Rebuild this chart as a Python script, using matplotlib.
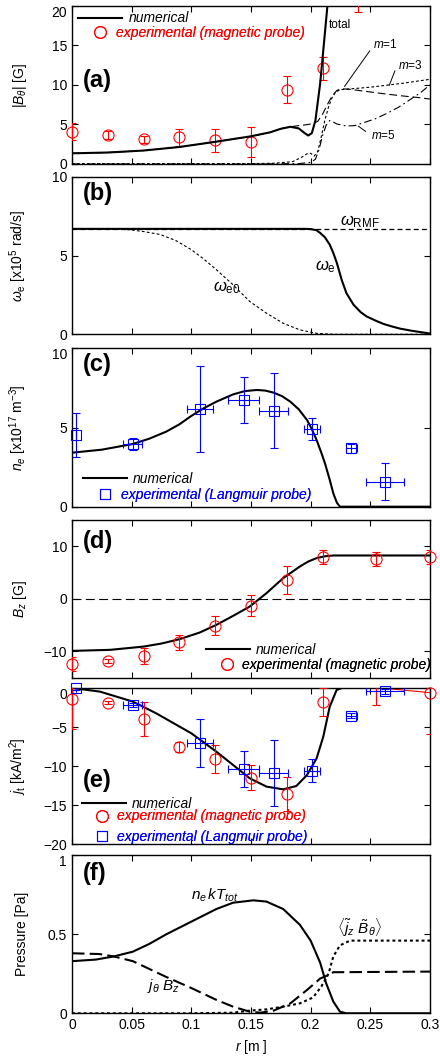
import numpy as np
import matplotlib
matplotlib.use('Agg')
import matplotlib.pyplot as plt
from matplotlib.lines import Line2D

plt.rcParams['font.family'] = ['Liberation Sans', 'DejaVu Sans']
plt.rcParams['mathtext.fontset'] = 'custom'
plt.rcParams['mathtext.rm'] = 'Liberation Sans'
plt.rcParams['mathtext.it'] = 'Liberation Sans:italic'
plt.rcParams['mathtext.bf'] = 'Liberation Sans:bold'
plt.rcParams['font.size'] = 10

# ---- (a) |B_theta| ----
r_bt = [0, 0.03, 0.06, 0.09, 0.12, 0.15, 0.166, 0.175, 0.183, 0.19, 0.195, 0.198,
        0.201, 0.204, 0.208, 0.211, 0.2145, 0.217]
bt_total = [1.35, 1.45, 1.7, 2.15, 2.8, 3.5, 4.0, 4.45, 4.7, 4.5, 3.9, 3.6,
            3.9, 5.5, 10.2, 15.0, 20.7, 24.0]
r_m1 = [0, 0.03, 0.06, 0.09, 0.12, 0.15, 0.166, 0.175, 0.183, 0.19, 0.196, 0.202,
        0.206, 0.21, 0.214, 0.218, 0.222, 0.226, 0.232, 0.24, 0.25, 0.26, 0.277, 0.29, 0.3]
bt_m1 = [1.35, 1.45, 1.7, 2.15, 2.8, 3.5, 4.0, 4.45, 4.7, 4.85, 4.95, 5.1,
         5.4, 6.3, 7.5, 8.6, 9.3, 9.5, 9.45, 9.3, 9.1, 8.9, 8.6, 8.4, 8.2]
r_m3 = [0, 0.1, 0.15, 0.17, 0.185, 0.193, 0.197, 0.2, 0.203, 0.206, 0.209, 0.212,
        0.215, 0.218, 0.221, 0.225, 0.23, 0.25, 0.277, 0.3]
bt_m3 = [0.05, 0.05, 0.05, 0.1, 0.3, 0.9, 1.3, 1.35, 1.0, 1.6, 3.5, 5.6,
         7.2, 8.4, 9.1, 9.4, 9.45, 9.7, 10.2, 10.7]
r_m5 = [0, 0.15, 0.19, 0.2, 0.204, 0.207, 0.21, 0.213, 0.216, 0.219, 0.222, 0.23,
        0.237, 0.244, 0.254, 0.264, 0.274, 0.283, 0.292, 0.3]
bt_m5 = [0, 0, 0.05, 0.2, 0.6, 1.8, 3.6, 4.9, 5.5, 5.3, 5.05, 4.8,
         4.85, 5.2, 5.7, 6.4, 7.2, 8.1, 9.0, 10.0]
r_mag_a = [0, 0.03, 0.06, 0.09, 0.12, 0.15, 0.18, 0.21, 0.24]
bt_mag = [4.1, 3.66, 3.1, 3.37, 3.0, 2.8, 9.4, 12.1, 21.5]
bt_mag_err = [1.13, 0.53, 0.5, 1.05, 1.47, 1.93, 1.7, 1.47, 2.3]

# ---- (b) omega_e ----
omega_rmf = 6.69
r_we = [0, 0.195, 0.2, 0.205, 0.208, 0.212, 0.216, 0.219, 0.222, 0.226, 0.23, 0.236,
        0.242, 0.247, 0.255, 0.261, 0.268, 0.275, 0.285, 0.3]
we = [6.69, 6.69, 6.68, 6.6, 6.43, 6.15, 5.69, 5.16, 4.52, 3.46, 2.61, 1.87,
      1.4, 1.13, 0.85, 0.66, 0.5, 0.36, 0.22, 0.05]
r_we0 = [0, 0.04, 0.05, 0.06, 0.074, 0.087, 0.1, 0.11, 0.121, 0.135, 0.149, 0.163,
         0.177, 0.191, 0.205, 0.22, 0.3]
we0 = [6.69, 6.67, 6.62, 6.52, 6.33, 5.95, 5.37, 4.8, 4.1, 3.14, 2.08, 1.34,
       0.7, 0.28, 0.06, 0.0, 0.0]

# ---- (c) n_e ----
r_ne = [0, 0.025, 0.051, 0.065, 0.079, 0.09, 0.1, 0.11, 0.121, 0.135, 0.145, 0.155,
        0.162, 0.169, 0.176, 0.183, 0.19, 0.197, 0.201, 0.205, 0.209, 0.212, 0.216,
        0.219, 0.222, 0.2246, 0.3]
ne_num = [3.41, 3.6, 3.96, 4.3, 4.74, 5.2, 5.73, 6.2, 6.63, 7.09, 7.3, 7.37,
          7.33, 7.2, 6.98, 6.63, 6.15, 5.47, 4.9, 4.21, 3.4, 2.74, 1.7,
          0.84, 0.25, 0.0, 0.0]
r_lp = [0.003, 0.051, 0.107, 0.144, 0.169, 0.201, 0.234, 0.262]
r_lp_err = [0, 0.008, 0.011, 0.013, 0.012, 0.0065, 0.0045, 0.016]
ne_lp = [4.53, 3.94, 6.17, 6.74, 6.06, 4.88, 3.68, 1.58]
ne_lp_err = [1.37, 0.39, 2.7, 1.47, 2.35, 0.7, 0.3, 1.18]

# ---- (d) B_z ----
r_bz = [0, 0.032, 0.06, 0.075, 0.09, 0.107, 0.121, 0.135, 0.149, 0.163, 0.177, 0.191,
        0.198, 0.205, 0.212, 0.219, 0.3]
bz_num = [-9.9, -9.7, -9.08, -8.5, -7.68, -6.41, -4.95, -3.24, -1.46, 1.08, 3.94, 6.16,
          7.1, 7.75, 8.1, 8.25, 8.25]
r_mag = [0, 0.03, 0.06, 0.09, 0.12, 0.15, 0.18, 0.21, 0.255, 0.3]
bz_mag = [-12.4, -11.8, -10.8, -8.3, -5.1, -1.27, 3.6, 7.94, 7.6, 7.94]
bz_mag_err = [1.3, 0.45, 1.5, 1.4, 1.8, 2.05, 2.6, 1.4, 1.35, 1.27]

# ---- (e) j_t ----
r_jt = [0, 0.0235, 0.051, 0.0704, 0.1, 0.121, 0.135, 0.149, 0.163, 0.177, 0.188, 0.197,
        0.205, 0.2106, 0.216, 0.2218, 0.2274, 0.282]
jt_num = [0.05, -0.43, -1.71, -3.2, -5.78, -8.14, -9.85, -11.56, -12.63, -12.98, -12.55, -11.13,
          -9.0, -6.21, -2.36, -0.21, 0.1, 0.1]
jt_mag = [-1.41, -1.84, -3.98, -7.5, -9.08, -11.48, -13.58, -1.71, 0.1, -0.56]
jt_mag_err = [3.86, 0.15, 2.16, 0.65, 1.74, 1.6, 2.2, 1.8, 2.2, 5.35]
jt_lp = [0.0, -2.14, -7.07, -10.4, -10.92, -10.58, -3.5, -0.4]
jt_lp_err = [0.2, 0.2, 3.08, 2.33, 4.24, 1.46, 0.3, 0.3]

# ---- (f) pressure ----
r_p = [0, 0.02, 0.035, 0.051, 0.065, 0.079, 0.1, 0.121, 0.135, 0.152, 0.163, 0.177,
       0.191, 0.2, 0.208, 0.213, 0.219, 0.2246, 0.23, 0.3]
p_nkt = [0.33, 0.34, 0.36, 0.39, 0.44, 0.5, 0.58, 0.66, 0.7, 0.715, 0.707, 0.66,
         0.56, 0.46, 0.32, 0.19, 0.074, 0.01, 0.0, 0.0]
r_jb = [0, 0.023, 0.035, 0.051, 0.065, 0.079, 0.1, 0.121, 0.135, 0.149, 0.158, 0.169,
        0.183, 0.197, 0.208, 0.215, 0.219, 0.3]
p_jb = [0.38, 0.375, 0.36, 0.33, 0.28, 0.23, 0.16, 0.085, 0.042, 0.01, 0.004, 0.017,
        0.063, 0.148, 0.22, 0.243, 0.26, 0.264]
r_jzb = [0, 0.1, 0.135, 0.149, 0.163, 0.177, 0.191, 0.202, 0.209, 0.215, 0.219, 0.2246,
         0.233, 0.3]
p_jzb = [0, 0, 0.004, 0.017, 0.025, 0.042, 0.063, 0.1, 0.17, 0.25, 0.36, 0.43,
         0.46, 0.46]

r_ticks = [0, 0.05, 0.1, 0.15, 0.2, 0.25, 0.3]
r_ticklabels = ['0', '0.05', '0.1', '0.15', '0.2', '0.25', '0.3']


def points(ax, x, y, yerr, xerr, color, marker, ms):
    ax.errorbar(x, y, yerr=yerr, xerr=xerr, fmt='none', ecolor=color,
                elinewidth=0.8, capsize=3, capthick=0.8, zorder=3)
    x, y = np.asarray(x), np.asarray(y)
    lo, hi = ax.get_ylim()
    keep = (y >= lo) & (y <= hi)
    ax.plot(x[keep], y[keep], ls='none', marker=marker, mfc='none', mec=color,
            ms=ms, mew=0.8, clip_on=False, zorder=4)


def key(ax, handles, labels, colors, anchor, hlen):
    # one legend block, rows centred on the anchor point
    leg = ax.legend(handles, labels, loc='center left', bbox_to_anchor=anchor,
                    frameon=False, borderpad=0, borderaxespad=0, handlelength=hlen,
                    handletextpad=0.42, labelspacing=0.45,
                    prop={'style': 'italic', 'size': 10}, labelcolor=colors)
    ax.add_artist(leg)


h_num = Line2D([], [], color='k', lw=1.5)
h_mag = Line2D([], [], ls='none', marker='o', mfc='none', mec='red', ms=8.5, mew=0.8)
h_lp = Line2D([], [], ls='none', marker='s', mfc='none', mec='blue', ms=6.5, mew=0.8)
lab_num = 'numerical'
lab_mag = 'experimental (magnetic probe)'
lab_lp = 'experimental (Langmuir probe)'

fig = plt.figure(figsize=(4.4, 10.63), dpi=100)
L, W = 0.1636, 0.8136
boxes = [(0.84572, 0.14892), (0.68551, 0.14826), (0.52333, 0.14901),
         (0.36246, 0.14836), (0.20602, 0.14648), (0.04675, 0.14864)]
axs = [fig.add_axes([L, b, W, h]) for b, h in boxes]
ylims = [(0, 20), (0, 10), (0, 10), (-15, 15), (-20, 0), (0, 1)]
yticks = [[0, 5, 10, 15, 20], [0, 5, 10], [0, 5, 10], [-10, 0, 10],
          [-20, -15, -10, -5, 0], [0, 0.5, 1]]
yticklabels = [None, None, None, None, None, ['0', '0.5', '1']]
ylabels = [r'|$B_\theta$| [G]', r'$\omega_{\rm e}$ [x10$^5$ rad/s]',
           r'$n_e$ [x10$^{17}$ m$^{-3}$]', r'$B_z$ [G]', r'$j_{\rm t}$ [kA/m$^2$]',
           'Pressure [Pa]']
letters = ['(a)', '(b)', '(c)', '(d)', '(e)', '(f)']
letter_y = [0.53, 0.895, 0.895, 0.862, 0.41, 0.886]

for i, ax in enumerate(axs):
    ax.set_xlim(0, 0.3)
    ax.set_ylim(*ylims[i])
    ax.set_xticks(r_ticks)
    ax.set_yticks(yticks[i])
    if yticklabels[i]:
        ax.set_yticklabels(yticklabels[i])
    ax.tick_params(direction='in', top=True, right=True, length=4, width=0.8,
                   labelsize=10, labelbottom=(i == 5))
    for s in ax.spines.values():
        s.set_linewidth(1.0)
    ax.set_ylabel(ylabels[i], fontsize=10)
    ax.yaxis.set_label_coords(-0.12, 0.5)
    ax.text(0.031, letter_y[i], letters[i], transform=ax.transAxes, ha='left',
            va='center', fontsize=17, fontweight='bold')
    if i in (0, 2, 4, 5):
        ax.yaxis.get_major_ticks()[-1].label1.set_verticalalignment('top')

axs[5].set_xticklabels(r_ticklabels)
axs[5].set_xlabel(r'$r$ [m ]', fontsize=10, labelpad=4)

# (a)
ax = axs[0]
ax.plot(r_m1, bt_m1, color='k', lw=0.8, dashes=(7, 3.5))
ax.plot(r_m3, bt_m3, color='k', lw=0.8, dashes=(2.5, 2))
ax.plot(r_m5, bt_m5, color='k', lw=0.8, dashes=(7, 3, 1.5, 3))
ax.plot(r_bt, bt_total, color='k', lw=1.5, zorder=5)
points(ax, r_mag_a, bt_mag, bt_mag_err, None, 'red', 'o', 8)
ax.text(0.215, 17.5, 'total', fontsize=8.5, ha='left', va='center')
ax.text(0.252, 15.1, r'$m$=1', fontsize=8.5, ha='left', va='center')
ax.text(0.273, 12.5, r'$m$=3', fontsize=8.5, ha='left', va='center')
ax.text(0.251, 3.66, r'$m$=5', fontsize=8.5, ha='left', va='center')
for start, end in [((0.251, 14.6), (0.227, 9.5)), ((0.2715, 12.1), (0.265, 9.6)),
                   ((0.248, 3.9), (0.238, 5.0))]:
    ax.annotate('', xy=end, xytext=start, arrowprops=dict(arrowstyle='-', lw=0.7))
key(ax, [h_num], [lab_num], ['k'], (0.0168, 0.920), 3.2)
key(ax, [h_mag], [lab_mag], ['red'], (0.051, 0.826), 1.4)

# (b)
ax = axs[1]
ax.axhline(omega_rmf, color='k', lw=0.9, dashes=(4, 2.5))
ax.plot(r_we0, we0, color='k', lw=0.8, dashes=(2.5, 2))
ax.plot(r_we, we, color='k', lw=1.5)
ax.text(0.225, 7.15, r'$\omega_{\rm RMF}$', fontsize=12, ha='left', va='center')
ax.text(0.204, 4.3, r'$\omega_{\rm e}$', fontsize=12, ha='left', va='center')
ax.text(0.118, 2.93, r'$\omega_{\rm e0}$', fontsize=12, ha='left', va='center')

# (c)
ax = axs[2]
ax.plot(r_ne, ne_num, color='k', lw=1.5)
points(ax, r_lp, ne_lp, ne_lp_err, r_lp_err, 'blue', 's', 6.5)
key(ax, [h_num], [lab_num], ['k'], (0.030, 0.173), 3.2)
key(ax, [h_lp], [lab_lp], ['blue'], (0.065, 0.074), 1.4)

# (d)
ax = axs[3]
ax.axhline(0, color='k', lw=0.8, dashes=(8, 4))
ax.plot(r_bz, bz_num, color='k', lw=1.5)
points(ax, r_mag, bz_mag, bz_mag_err, None, 'red', 'o', 8)
key(ax, [h_num], [lab_num], ['k'], (0.374, 0.176), 3.2)
key(ax, [h_mag], [lab_mag], ['k'], (0.405, 0.081), 1.4)

# (e)
ax = axs[4]
ax.plot(r_jt, jt_num, color='k', lw=1.5)
ax.plot(r_mag[-2:], jt_mag[-2:], color='red', lw=0.8)
points(ax, r_mag, jt_mag, jt_mag_err, None, 'red', 'o', 8)
points(ax, r_lp, jt_lp, jt_lp_err, r_lp_err, 'blue', 's', 6.5)
key(ax, [h_num], [lab_num], ['k'], (0.027, 0.257), 3.2)
key(ax, [h_mag, h_lp], [lab_mag, lab_lp], ['red', 'blue'], (0.056, 0.112), 1.4)

# (f)
ax = axs[5]
ax.plot(r_p, p_nkt, color='k', lw=1.5)
ax.plot(r_jb, p_jb, color='k', lw=1.5, dashes=(6, 2.5))
ax.plot(r_jzb, p_jzb, color='k', lw=1.5, dashes=(1.4, 1.4))
ax.text(0.1, 0.75, r'$n_e\,kT_{tot}$', fontsize=11, ha='left', va='center')
ax.text(0.0626, 0.17, r'$j_\theta\ B_z$', fontsize=11, ha='left', va='center')
ax.text(0.222, 0.54, r'$\langle\tilde{j}_z\ \tilde{B}_\theta\rangle$', fontsize=11,
        ha='left', va='center')

fig.savefig('out.png', dpi=100)
